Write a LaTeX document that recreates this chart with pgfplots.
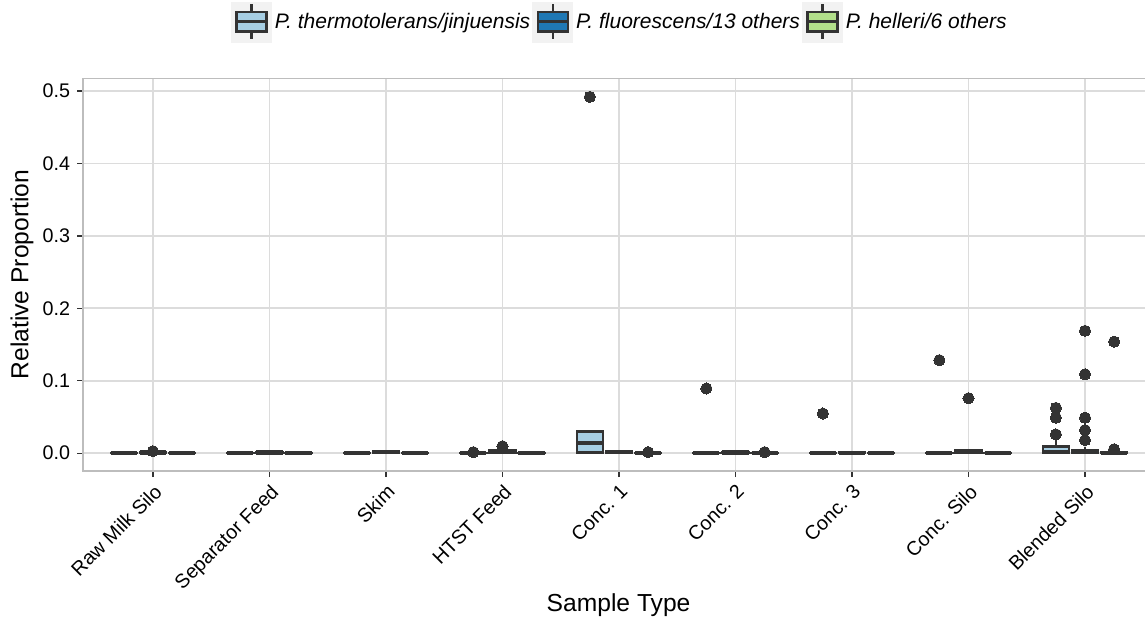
\documentclass[border=0pt]{standalone}
\usepackage{pgfplots}
\pgfplotsset{compat=1.18}
\usepgfplotslibrary{statistics}
\usepackage{fontspec}
\setmainfont{Liberation Sans}
\definecolor{lb}{HTML}{A6CEE3}
\definecolor{db}{HTML}{1F78B4}
\definecolor{lg}{HTML}{B2DF8A}
\definecolor{c333}{HTML}{333333}
\definecolor{gridc}{HTML}{DCDCDC}
\definecolor{borderc}{HTML}{BDBDBD}
\definecolor{keybg}{HTML}{F2F2F2}
\pgfplotsset{
  bxs/.style={solid, draw=c333, line width=1.2pt, forget plot,
    mark=*, mark size=2.8pt, mark options={solid, fill=c333, draw=c333, line width=0pt},
    boxplot/box extend=0.225, boxplot/whisker extend=0,
    boxplot/every median/.style={line width=2.2pt}},
}
\newcommand\bx[7]{\addplot[bxs, fill=#1, boxplot prepared={draw direction=y, draw position=#2, lower whisker=#3, lower quartile=#4, median=#5, upper quartile=#6, upper whisker=#7}] coordinates {};}
\newcommand\bxo[8]{\addplot[bxs, fill=#1, boxplot prepared={draw direction=y, draw position=#2, lower whisker=#3, lower quartile=#4, median=#5, upper quartile=#6, upper whisker=#7}] table[row sep=\\, y index=0] {d\\ #8};}
\newcommand\keydraw[1]{%
  \fill[keybg] (0pt,-10pt) rectangle (20pt,10pt);
  \draw[draw=c333, line width=1.2pt] (10pt,9pt)--(10pt,5.2pt) (10pt,-4.7pt)--(10pt,-8.5pt);
  \filldraw[fill=#1, draw=c333, line width=1.2pt] (2.5pt,-4.7pt) rectangle (17.5pt,5.2pt);
  \draw[draw=c333, line width=1.8pt] (2.5pt,0.25pt)--(17.5pt,0.25pt);
}
\begin{document}
\begin{tikzpicture}
\path[use as bounding box] (-41.5pt,-80.6pt) rectangle (530.7pt,235.4pt);
\begin{axis}[
  at={(0,0)}, anchor=south west,
  scale only axis, width=531pt, height=196.3pt,
  xmin=-0.6, xmax=8.52, ymin=-0.02465, ymax=0.5177,
  xtick={0,1,2,3,4,5,6,7,8},
  xticklabels={Raw Milk Silo, Separator Feed, Skim, HTST Feed, Conc. 1, Conc. 2, Conc. 3, Conc. Silo, Blended Silo},
  ytick={0,0.1,0.2,0.3,0.4,0.5},
  yticklabel style={/pgf/number format/fixed, /pgf/number format/fixed zerofill, /pgf/number format/precision=1, /pgf/number format/assume math mode=true},
  tick label style={font=\fontsize{9.85}{11.8}\selectfont, text=black},
  xticklabel style={rotate=45, anchor=north east, inner sep=2pt},
  tick pos=left, tick align=outside, major tick length=3pt,
  major tick style={draw=c333, line width=0.6pt},
  axis line style={draw=borderc, line width=0.6pt},
  grid=major, major grid style={draw=gridc, line width=0.9pt},
  xlabel={Sample Type}, ylabel={Relative Proportion},
  label style={font=\fontsize{12.3}{14.5}\selectfont, text=black},
  xlabel style={at={(axis description cs:0.504,-0.3413)}, anchor=center},
  ylabel style={at={(axis description cs:-0.0574,0.5)}, anchor=center, rotate=0},
  legend columns=3,
  legend style={at={(axis description cs:0.5052,1.1427)}, anchor=center, draw=none, fill=none,
    font=\fontsize{10.5}{12.6}\selectfont, inner sep=0pt,
    nodes={inner xsep=1pt, inner ysep=0pt},
    /tikz/every even column/.append style={column sep=0pt},
    /tikz/every odd column/.append style={column sep=0.5pt}},
  legend cell align=left,
]
\addlegendimage{legend image code/.code={\keydraw{lb}}}
\addlegendentry{\textit{P. thermotolerans/jinjuensis}}
\addlegendimage{legend image code/.code={\keydraw{db}}}
\addlegendentry{\textit{P. fluorescens/13 others}}
\addlegendimage{legend image code/.code={\keydraw{lg}}}
\addlegendentry{\textit{P. helleri/6 others}}
% Raw Milk Silo
\bx{lb}{-0.25}{0}{0}{0.0002}{0.0005}{0.001}
\bxo{db}{0}{0}{0.0005}{0.001}{0.0015}{0.002}{0.0028\\}
\bx{lg}{0.25}{0}{0}{0.0002}{0.0005}{0.001}
% Separator Feed
\bx{lb}{0.75}{0}{0}{0.0002}{0.0005}{0.001}
\bx{db}{1}{0}{0.0005}{0.001}{0.0015}{0.002}
\bx{lg}{1.25}{0}{0}{0.0002}{0.0005}{0.001}
% Skim
\bx{lb}{1.75}{0}{0}{0.0002}{0.0005}{0.001}
\bx{db}{2}{0}{0.001}{0.0015}{0.0025}{0.004}
\bx{lg}{2.25}{0}{0}{0.0002}{0.0005}{0.001}
% HTST Feed
\bxo{lb}{2.75}{0}{0}{0.0002}{0.0005}{0.001}{0.0015\\}
\bxo{db}{3}{0}{0.001}{0.002}{0.004}{0.006}{0.0097\\}
\bx{lg}{3.25}{0}{0}{0.0002}{0.0005}{0.001}
% Conc. 1
\bxo{lb}{3.75}{0}{0.001}{0.014}{0.030}{0.030}{0.492\\}
\bx{db}{4}{0}{0.001}{0.002}{0.003}{0.004}
\bxo{lg}{4.25}{0}{0}{0.0002}{0.0005}{0.001}{0.0015\\}
% Conc. 2
\bxo{lb}{4.75}{0}{0}{0.0002}{0.0005}{0.001}{0.0894\\}
\bx{db}{5}{0}{0.0005}{0.001}{0.0015}{0.002}
\bxo{lg}{5.25}{0}{0}{0.0002}{0.0005}{0.001}{0.0015\\}
% Conc. 3
\bxo{lb}{5.75}{0}{0}{0.0002}{0.0005}{0.001}{0.0548\\}
\bx{db}{6}{0}{0.0002}{0.0005}{0.001}{0.0015}
\bx{lg}{6.25}{0}{0}{0.0002}{0.0005}{0.001}
% Conc. Silo
\bxo{lb}{6.75}{0}{0}{0.0002}{0.0005}{0.001}{0.1285\\}
\bxo{db}{7}{0}{0.001}{0.0025}{0.004}{0.006}{0.076\\}
\bx{lg}{7.25}{0}{0}{0.0002}{0.0005}{0.001}
% Blended Silo
\bxo{lb}{7.75}{0}{0.0005}{0.0015}{0.0095}{0.018}{0.026\\ 0.049\\ 0.0626\\}
\bxo{db}{8}{0}{0.001}{0.002}{0.004}{0.008}{0.018\\ 0.032\\ 0.049\\ 0.109\\ 0.169\\}
\bxo{lg}{8.25}{0}{0}{0.0005}{0.001}{0.002}{0.0055\\ 0.154\\}
\end{axis}
\end{tikzpicture}
\end{document}
